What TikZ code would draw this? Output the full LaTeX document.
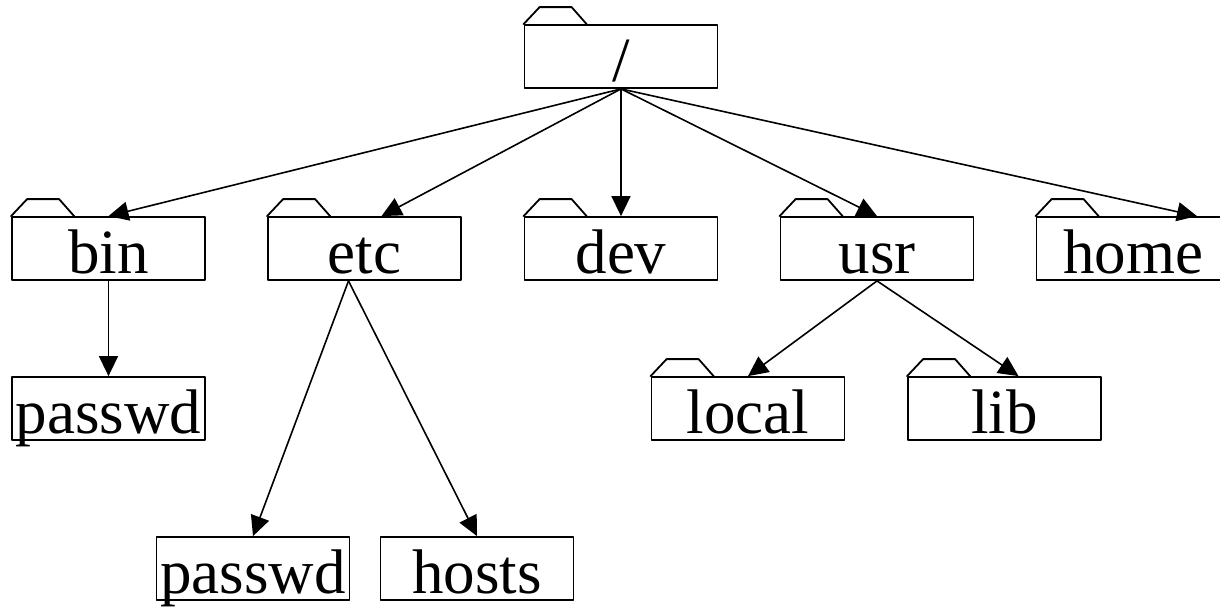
\documentclass[tikz,border=0pt]{standalone}
\usepackage{fontspec}
\setmainfont{Liberation Serif}
\usetikzlibrary{arrows.meta}
\begin{document}
\begin{tikzpicture}[x=1pt,y=-1pt,line join=round,line cap=round,>={Triangle[length=20pt,width=19pt]},
	dirbox/.style={draw,line width=1.8pt,minimum width=193pt,minimum height=63pt,inner sep=0pt,
		text height=49pt,text depth=0pt,font=\fontsize{63}{63}\selectfont},
	link/.style={line width=1.6pt,->}]
		\useasboundingbox (0,0) rectangle (1220,606);
		\clip (0,0) rectangle (1220,606);
		% folders
		\node[dirbox] (root) at (621,56.5) {/};
		\node[dirbox] (bin)  at (108.5,248.5) {bin};
		\node[dirbox] (etc)  at (364.5,248.5) {etc};
		\node[dirbox] (dev)  at (621,248.5) {dev};
		\node[dirbox] (usr)  at (877,248.5) {usr};
		\node[dirbox] (home) at (1133,248.5) {home};
		\node[dirbox] (local) at (748,408.5) {local};
		\node[dirbox] (lib)   at (1004.5,408.5) {lib};
		\foreach \n in {root,bin,etc,dev,usr,home,local,lib}
			\draw[line width=1.8pt] (\n.north west) -- ++(16,-17) -- ++(32,0) -- ++(15,17);
		% files
		\node[dirbox] (binpasswd) at (108.5,408.5) {passwd};
		\node[dirbox] (etcpasswd) at (253,568.5) {passwd};
		\node[dirbox] (hosts)     at (477,568.5) {hosts};
		% edges
		\draw[link] (root.south) -- (bin.north);
		\draw[link] (root.south) -- ([xshift=17pt]etc.north);
		\draw[link] (root.south) -- (dev.north);
		\draw[link] (root.south) -- (usr.north);
		\draw[link] (root.south) -- ([xshift=64pt]home.north);
		\draw[link] (bin.south) -- (binpasswd.north);
		\draw[link] ([xshift=-16pt]etc.south) -- (etcpasswd.north);
		\draw[link] ([xshift=-16pt]etc.south) -- (hosts.north);
		\draw[link] (usr.south) -- (local.north);
		\draw[link] (usr.south) -- ([xshift=14pt]lib.north);
\end{tikzpicture}
\end{document}
